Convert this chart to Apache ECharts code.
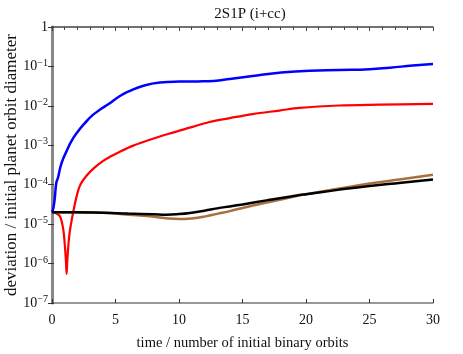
<!DOCTYPE html>
<html>
<head>
<meta charset="utf-8">
<script src="https://cdn.jsdelivr.net/npm/echarts@6/dist/echarts.min.js"></script>
<style>
  html, body { margin: 0; padding: 0; background: #fff; }
  #chart { width: 463px; height: 354px; }
</style>
</head>
<body>
<div id="chart"></div>
<script>
// data (time in binary orbits, deviation as fraction)
const blueT = [0, 0.1, 0.21, 0.34, 0.47, 0.68, 0.86, 1.13, 1.52, 2.04, 2.57, 3.22, 3.88, 4.4, 5.35, 6.1, 7.2, 8.5, 10, 11.5, 12.7, 14, 15.8, 17.9, 20.3, 22.6, 25, 26.6, 28.4, 30];
const blueV = [2.0e-5, 2.5e-5, 4.3e-5, 1.12e-4, 1.5e-4, 2.95e-4, 4.4e-4, 6.9e-4, 1.26e-3, 2.24e-3, 3.6e-3, 5.9e-3, 8.4e-3, 1.08e-2, 1.78e-2, 2.37e-2, 3.24e-2, 3.9e-2, 4.12e-2, 4.17e-2, 4.3e-2, 4.8e-2, 5.75e-2, 6.9e-2, 7.8e-2, 8.1e-2, 8.5e-2, 9.3e-2, 1.05e-1, 1.15e-1];

const redT = [0, 0.3, 0.63, 0.89, 1.0, 1.1, 1.15, 1.2, 1.3, 1.42, 1.68, 1.9, 2.2, 2.7, 3.3, 4.0, 4.56, 5.35, 6.4, 7.7, 9.3, 10.85, 12.4, 14, 15.8, 17.9, 19.5, 22.6, 25.8, 30];
const redV = [2.0e-5, 1.9e-5, 1.58e-5, 7.2e-6, 3.2e-6, 1.12e-6, 5.5e-7, 1.12e-6, 3.2e-6, 7.2e-6, 2.1e-5, 4.5e-5, 9.5e-5, 1.66e-4, 2.63e-4, 3.98e-4, 5.1e-4, 6.9e-4, 9.8e-4, 1.38e-3, 2.0e-3, 2.8e-3, 3.9e-3, 4.9e-3, 6.2e-3, 7.6e-3, 8.9e-3, 1.02e-2, 1.07e-2, 1.12e-2];

const brownT = [0, 4, 6, 7.7, 9, 10, 11, 12, 13, 14, 15, 17.1, 19.5, 20, 22.5, 25, 27.5, 30];
const brownV = [2.0e-5, 1.95e-5, 1.74e-5, 1.58e-5, 1.41e-5, 1.35e-5, 1.40e-5, 1.55e-5, 1.82e-5, 2.14e-5, 2.57e-5, 3.63e-5, 5.37e-5, 5.75e-5, 7.9e-5, 1.07e-4, 1.38e-4, 1.78e-4];

const blackT = [0, 2, 4, 6, 8, 9, 10, 11, 12, 13, 14, 15, 17, 19.5, 20, 22.5, 25, 27.5, 30];
const blackV = [2.0e-5, 2.0e-5, 1.95e-5, 1.86e-5, 1.78e-5, 1.74e-5, 1.80e-5, 1.95e-5, 2.19e-5, 2.51e-5, 2.82e-5, 3.16e-5, 4.07e-5, 5.5e-5, 5.75e-5, 7.4e-5, 9.3e-5, 1.12e-4, 1.35e-4];

const xTicks = [0, 5, 10, 15, 20, 25, 30];
const yExponents = [0, -1, -2, -3, -4, -5, -6, -7];

const zip = (t, v) => t.map((x, i) => [x, v[i]]);

const chart = echarts.init(document.getElementById('chart'));
const serif = 'Liberation Serif';

const yLabel = (v) => {
  const e = Math.round(Math.log10(v));
  if (!yExponents.includes(e)) return '';
  if (e === 0) return '{b|1}';
  return '{b|10}{s|\u2212' + (-e) + '}';
};

const line = (name, data, color, width, smooth) => ({
  name,
  type: 'line',
  data,
  showSymbol: false,
  smooth,
  lineStyle: { color, width },
  silent: true,
  animation: false,
});

chart.setOption({
  animation: false,
  title: {
    text: '2S1P (i+cc)',
    left: 245,
    textAlign: 'center',
    top: 2,
    textStyle: { fontFamily: serif, fontSize: 15, fontWeight: 'normal', color: '#111' },
  },
  grid: { left: 52, right: 30, top: 27, bottom: 51, containLabel: false, outerBoundsMode: 'none' },
  xAxis: [
    {
      type: 'value',
      position: 'bottom',
      min: 0,
      max: 30,
      interval: 5,
      name: 'time / number of initial binary orbits',
      nameLocation: 'middle',
      nameGap: 33,
      nameMoveOverlap: false,
      nameTextStyle: { fontFamily: serif, fontSize: 14.5, color: '#111' },
      axisLine: { lineStyle: { color: '#777', width: 1.5 } },
      axisTick: { inside: true, length: 4, lineStyle: { color: '#333' } },
      axisLabel: { fontFamily: serif, fontSize: 14, color: '#111', margin: 10,
        formatter: (v) => (xTicks.includes(v) ? String(v) : '') },
      splitLine: { show: false },
    },
    {
      type: 'value',
      position: 'top',
      min: 0,
      max: 30,
      interval: 5,
      axisLine: { lineStyle: { color: '#444', width: 1.5 } },
      axisTick: { inside: true, length: 4, lineStyle: { color: '#444' } },
      minorTick: { show: true, splitNumber: 5, length: 3, lineStyle: { color: '#444' } },
      axisLabel: { show: false },
      splitLine: { show: false },
    },
  ],
  yAxis: [
    {
      type: 'log',
      logBase: 10,
      min: 1e-7,
      max: 1,
      position: 'left',
      name: 'deviation / initial planet orbit diameter',
      nameLocation: 'middle',
      nameGap: 32,
      nameMoveOverlap: false,
      nameTextStyle: { fontFamily: serif, fontSize: 17, color: '#111' },
      axisLine: { show: true, lineStyle: { color: '#777', width: 1.5 } },
      axisTick: { show: true, inside: true, length: 2, lineStyle: { color: '#333' } },
      axisLabel: {
        formatter: yLabel,
        margin: 4,
        rich: {
          b: { fontFamily: serif, fontSize: 14, color: '#111' },
          s: { fontFamily: serif, fontSize: 10, color: '#111', verticalAlign: 'bottom', padding: [0, 0, 7, 0] },
        },
      },
      splitLine: { show: false },
    },
    {
      type: 'log',
      logBase: 10,
      min: 1e-7,
      max: 1,
      position: 'right',
      axisLine: { show: true, lineStyle: { color: '#888', width: 3 } },
      axisTick: { show: true, inside: true, length: 4, lineStyle: { color: '#333' } },
      axisLabel: { show: false },
      splitLine: { show: false },
    },
  ],
  series: [
    line('blue', zip(blueT, blueV), '#0000ff', 2.5, 0.5),
    line('red', zip(redT, redV), '#ff0000', 2.2, 0.35),
    line('brown', zip(brownT, brownV), '#a8703a', 2.5, 0.5),
    line('black', zip(blackT, blackV), '#000000', 2.5, 0.5),
  ],
});
</script>
</body>
</html>
